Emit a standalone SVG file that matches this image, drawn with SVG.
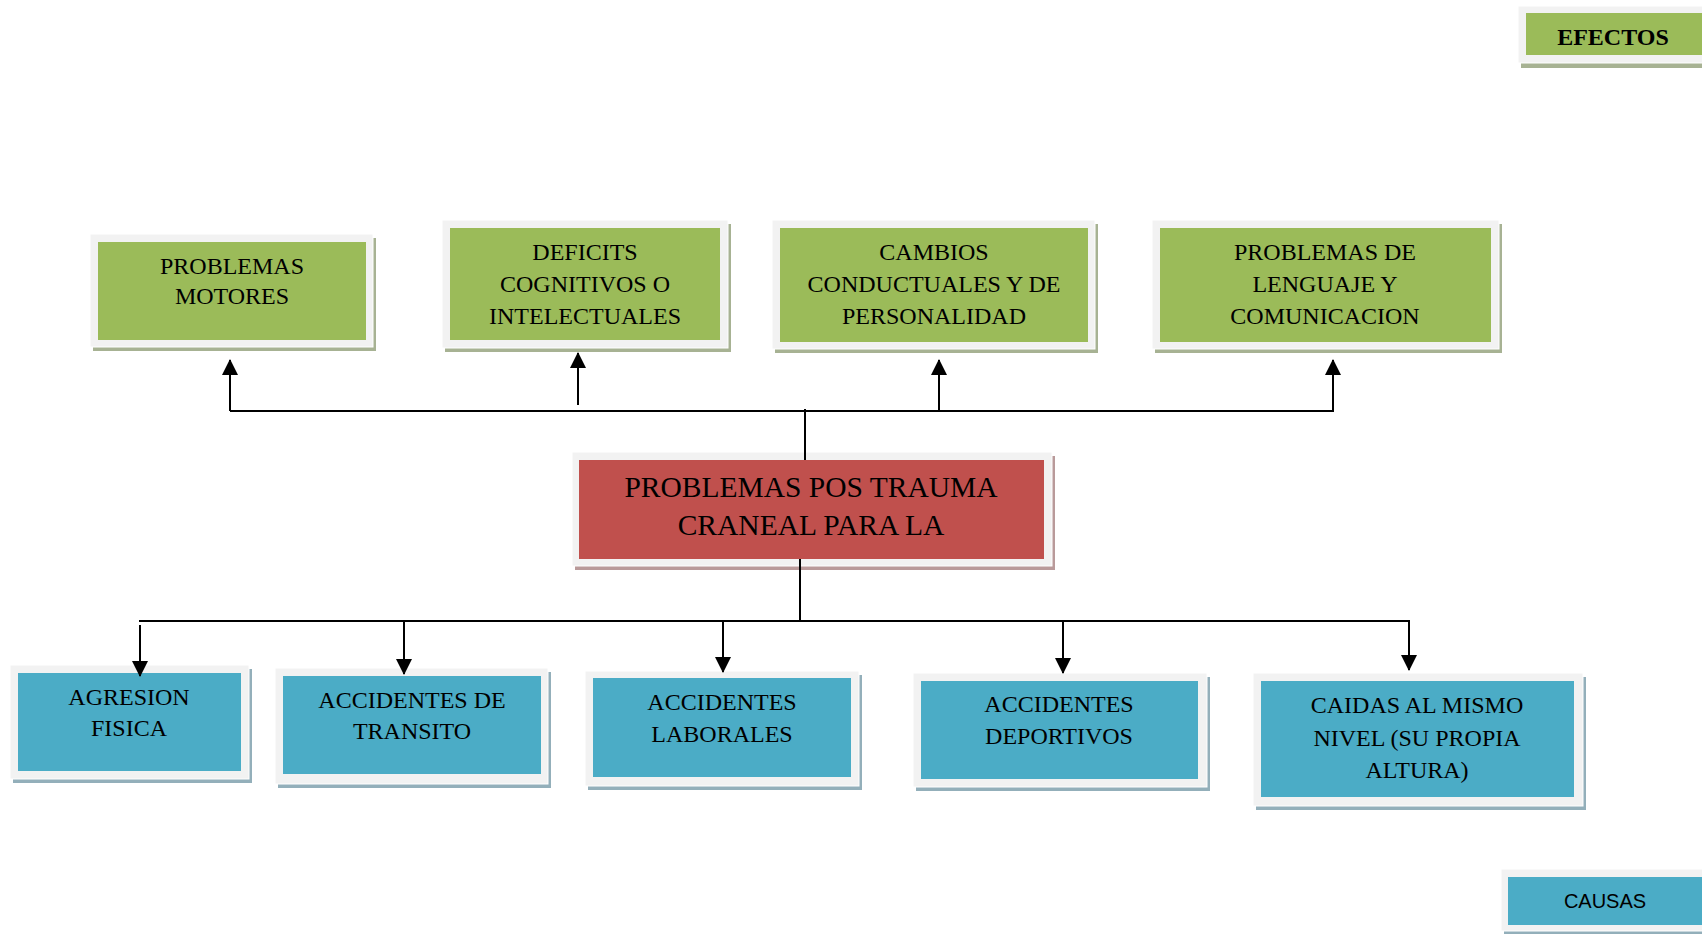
<svg xmlns="http://www.w3.org/2000/svg" width="1702" height="934" viewBox="0 0 1702 934">
<defs>
<style>
.frame{fill:#F2F2F2;stroke:#ffffff;stroke-width:1}
.g{fill:#9BBB59}
.r{fill:#C0504D}
.b{fill:#4BACC6}
.gs{fill:#A7B293}
.rs{fill:#B99A9A}
.bs{fill:#93AFBA}
.t{font-family:"Liberation Serif","Times New Roman",serif;font-size:24px;fill:#000;text-anchor:middle}
.tm{font-family:"Liberation Serif","Times New Roman",serif;font-size:29.5px;fill:#000;text-anchor:middle}
.tb{font-family:"Liberation Serif","Times New Roman",serif;font-size:24px;font-weight:bold;fill:#000;text-anchor:middle}
.ts{font-family:"Liberation Sans",Arial,sans-serif;font-size:20px;fill:#000;text-anchor:middle}
.ln{stroke:#000;stroke-width:2;fill:none}
</style>
<marker id="ah" markerUnits="userSpaceOnUse" markerWidth="16" markerHeight="16" viewBox="0 0 16 16" refX="15" refY="8" orient="auto">
<path d="M0,0 L16,8 L0,16 z" fill="#000"/>
</marker>
</defs>
<rect width="1702" height="934" fill="#fff"/>

<g id="efectos">
<rect class="gs" x="1521" y="63" width="185" height="5"/>
<rect class="frame" x="1518" y="6" width="190" height="57"/>
<rect class="g" x="1526" y="13" width="180" height="42"/>
<text class="tb" x="1613" y="45">EFECTOS</text>
</g>

<g id="motores">
<rect class="gs" x="93" y="238" width="283" height="113"/>
<rect class="frame" x="90" y="234" width="283" height="113"/>
<rect class="g" x="98" y="242" width="268" height="98"/>
<text class="t" x="232" y="274">PROBLEMAS</text>
<text class="t" x="232" y="304">MOTORES</text>
</g>

<g id="deficits">
<rect class="gs" x="445" y="224" width="286" height="128"/>
<rect class="frame" x="442" y="220" width="286" height="128"/>
<rect class="g" x="450" y="228" width="270" height="112"/>
<text class="t" x="585" y="260">DEFICITS</text>
<text class="t" x="585" y="292">COGNITIVOS O</text>
<text class="t" x="585" y="324">INTELECTUALES</text>
</g>

<g id="cambios">
<rect class="gs" x="775" y="224" width="323" height="129"/>
<rect class="frame" x="772" y="220" width="323" height="129"/>
<rect class="g" x="780" y="228" width="308" height="114"/>
<text class="t" x="934" y="260">CAMBIOS</text>
<text class="t" x="934" y="292">CONDUCTUALES Y DE</text>
<text class="t" x="934" y="324">PERSONALIDAD</text>
</g>

<g id="lenguaje">
<rect class="gs" x="1155" y="224" width="347" height="129"/>
<rect class="frame" x="1152" y="220" width="347" height="129"/>
<rect class="g" x="1160" y="228" width="331" height="114"/>
<text class="t" x="1325" y="260">PROBLEMAS DE</text>
<text class="t" x="1325" y="292">LENGUAJE Y</text>
<text class="t" x="1325" y="324">COMUNICACION</text>
</g>

<g id="main">
<rect class="rs" x="575" y="456" width="480" height="114"/>
<rect class="frame" x="572" y="452" width="480" height="114"/>
<rect class="r" x="579" y="460" width="465" height="99"/>
<text class="tm" x="811" y="497">PROBLEMAS POS TRAUMA</text>
<text class="tm" x="811" y="535">CRANEAL PARA LA</text>
</g>

<g id="agresion">
<rect class="bs" x="13" y="669" width="239" height="114"/>
<rect class="frame" x="10" y="665" width="239" height="114"/>
<rect class="b" x="18" y="673" width="223" height="98"/>
<text class="t" x="129" y="705">AGRESION</text>
<text class="t" x="129" y="736">FISICA</text>
</g>

<g id="transito">
<rect class="bs" x="278" y="672" width="273" height="116"/>
<rect class="frame" x="275" y="668" width="273" height="116"/>
<rect class="b" x="283" y="676" width="258" height="98"/>
<text class="t" x="412" y="708">ACCIDENTES DE</text>
<text class="t" x="412" y="739">TRANSITO</text>
</g>

<g id="laborales">
<rect class="bs" x="588" y="675" width="274" height="115"/>
<rect class="frame" x="585" y="671" width="274" height="115"/>
<rect class="b" x="593" y="678" width="258" height="99"/>
<text class="t" x="722" y="710">ACCIDENTES</text>
<text class="t" x="722" y="742">LABORALES</text>
</g>

<g id="deportivos">
<rect class="bs" x="916" y="677" width="294" height="114"/>
<rect class="frame" x="913" y="673" width="294" height="114"/>
<rect class="b" x="921" y="681" width="277" height="98"/>
<text class="t" x="1059" y="712">ACCIDENTES</text>
<text class="t" x="1059" y="744">DEPORTIVOS</text>
</g>

<g id="caidas">
<rect class="bs" x="1256" y="677" width="330" height="133"/>
<rect class="frame" x="1253" y="673" width="330" height="133"/>
<rect class="b" x="1261" y="681" width="313" height="116"/>
<text class="t" x="1417" y="713">CAIDAS AL MISMO</text>
<text class="t" x="1417" y="746">NIVEL (SU PROPIA</text>
<text class="t" x="1417" y="778">ALTURA)</text>
</g>

<g id="causas">
<rect class="bs" x="1504" y="931" width="202" height="5"/>
<rect class="frame" x="1501" y="869" width="205" height="62"/>
<rect class="b" x="1508" y="877" width="198" height="48"/>
<text class="ts" x="1605" y="908">CAUSAS</text>
</g>

<g id="connectors">
<line class="ln" x1="805" y1="409" x2="805" y2="460"/>
<line class="ln" x1="230" y1="411" x2="1334" y2="411"/>
<line class="ln" x1="230" y1="411" x2="230" y2="360" marker-end="url(#ah)"/>
<line class="ln" x1="578" y1="405" x2="578" y2="353" marker-end="url(#ah)"/>
<line class="ln" x1="939" y1="411" x2="939" y2="360" marker-end="url(#ah)"/>
<line class="ln" x1="1333" y1="411" x2="1333" y2="360" marker-end="url(#ah)"/>
<line class="ln" x1="800" y1="559" x2="800" y2="621"/>
<line class="ln" x1="139" y1="621" x2="1410" y2="621"/>
<line class="ln" x1="140" y1="625" x2="140" y2="676" marker-end="url(#ah)"/>
<line class="ln" x1="404" y1="622" x2="404" y2="674" marker-end="url(#ah)"/>
<line class="ln" x1="723" y1="621" x2="723" y2="672" marker-end="url(#ah)"/>
<line class="ln" x1="1063" y1="622" x2="1063" y2="673" marker-end="url(#ah)"/>
<line class="ln" x1="1409" y1="621" x2="1409" y2="670" marker-end="url(#ah)"/>
</g>
</svg>
